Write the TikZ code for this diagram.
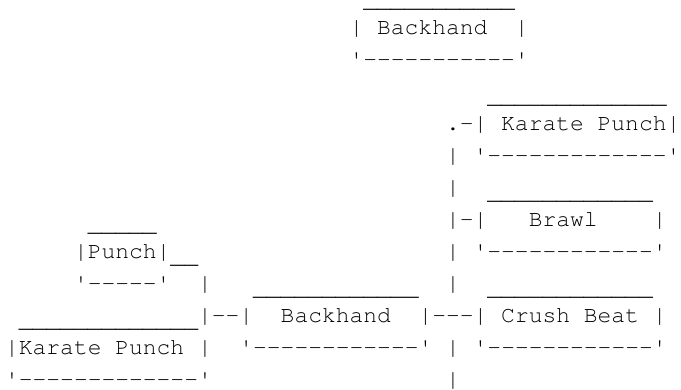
\documentclass[tikz,border=0pt]{standalone}
\usepackage{fontspec}
\setmonofont{TeX Gyre Cursor}
\tikzset{seg/.style={anchor=base west, inner sep=0pt, outer sep=0pt, text=black,
  font=\ttfamily\fontsize{22.97pt}{32pt}\selectfont}}
% place a run of characters starting at column #2 on row #3
\newcommand\seg[4]{\node[seg] (#1) at ({5.11pt+#2*13.78pt},{-3pt-#3*32pt}) {#4};}
% underscores sit a little lower, as in the reference
\newcommand\lo[1]{\raisebox{-4.5pt}[0pt][0pt]{#1}}
\begin{document}
\begin{tikzpicture}
\useasboundingbox (0,0) rectangle (681pt,-390pt);
% top Backhand box
\seg{r0}{26}{0}{\lo{\_\_\_\_\_\_\_\_\_\_\_}}
\seg{r1}{25}{1}{|~Backhand~~|}
\seg{r2}{25}{2}{'-----------'}
% right Karate Punch box
\seg{r3}{35}{3}{\lo{\_\_\_\_\_\_\_\_\_\_\_\_\_}}
\seg{r4}{32}{4}{.-|~Karate~Punch|}
\seg{r5}{32}{5}{|~'-------------'}
% Brawl box
\seg{r6}{32}{6}{|~~\lo{\_\_\_\_\_\_\_\_\_\_\_\_}}
\seg{r7a}{6}{7}{\lo{\_\_\_\_\_}}
\seg{r7b}{32}{7}{|-|~~~Brawl~~~~|}
\seg{r8a}{5}{8}{|Punch|\lo{\_\_}}
\seg{r8b}{32}{8}{|~'------------'}
\seg{r9a}{5}{9}{'-----'~~|}
\seg{r9b}{18}{9}{\lo{\_\_\_\_\_\_\_\_\_\_\_\_}}
\seg{r9c}{32}{9}{|~~\lo{\_\_\_\_\_\_\_\_\_\_\_\_}}
\seg{r10}{1}{10}{\lo{\_\_\_\_\_\_\_\_\_\_\_\_\_}|--|~~Backhand~~|---|~Crush~Beat~|}
\seg{r11}{0}{11}{|Karate~Punch~|~~'------------'~|~'------------'}
\seg{r12a}{0}{12}{'-------------'}
\seg{r12b}{32}{12}{|}
\end{tikzpicture}
\end{document}
